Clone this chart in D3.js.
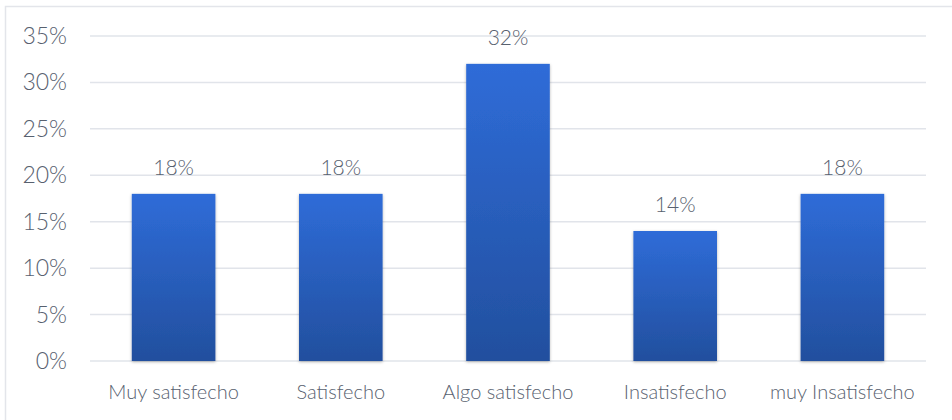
<!DOCTYPE html>
<html>
<head>
<meta charset="utf-8">
<script src="https://cdn.jsdelivr.net/npm/d3@7"></script>
<style>
  body { margin: 0; background: #fff; }
  svg text { font-family: "Lato", "Noto Sans", sans-serif; font-weight: 300; fill: #58616f; }
</style>
</head>
<body>
<div id="chart"></div>
<script>
var categories = ["Muy satisfecho", "Satisfecho", "Algo satisfecho", "Insatisfecho", "muy Insatisfecho"];
var values = [18, 18, 32, 14, 18];
var tickValues = [0, 5, 10, 15, 20, 25, 30, 35];

function init() {
    var w = 952;
    var h = 420;

    var svg = d3.select("#chart")
                .append("svg")
                .attr("width", w)
                .attr("height", h);

    // gradient + shadow for bars
    var defs = svg.append("defs");
    var grad = defs.append("linearGradient")
                .attr("id", "barGrad")
                .attr("x1", 0).attr("y1", 0)
                .attr("x2", 0).attr("y2", 1);
    grad.append("stop").attr("offset", "0%").attr("stop-color", "#2f6cd8");
    grad.append("stop").attr("offset", "100%").attr("stop-color", "#224f9e");

    var shadow = defs.append("filter")
                .attr("id", "shadow")
                .attr("x", "-20%").attr("y", "-10%")
                .attr("width", "140%").attr("height", "120%");
    shadow.append("feDropShadow")
        .attr("dx", 0).attr("dy", 1)
        .attr("stdDeviation", 1.5)
        .attr("flood-color", "#000")
        .attr("flood-opacity", 0.3);

    // outer frame
    svg.append("rect")
        .attr("x", 5.5).attr("y", 6.5)
        .attr("width", 960).attr("height", 430)
        .attr("fill", "none")
        .attr("stroke", "#e3e5ea")
        .attr("stroke-width", 1.5);

    var x = d3.scaleBand()
                .domain(categories)
                .range([90, 926])
                .paddingInner(0.5)
                .paddingOuter(0.25);

    var y = d3.scaleLinear()
                .domain([0, 35])
                .range([361, 36]);

    // gridlines
    svg.append("g")
        .selectAll("line")
        .data(tickValues)
        .enter()
        .append("line")
        .attr("x1", 90)
        .attr("x2", 926)
        .attr("y1", function(d) { return y(d); })
        .attr("y2", function(d) { return y(d); })
        .attr("stroke", "#e1e4ea")
        .attr("stroke-width", 1.5);

    // y tick labels
    svg.append("g")
        .selectAll("text")
        .data(tickValues)
        .enter()
        .append("text")
        .attr("x", 67)
        .attr("y", function(d) { return y(d); })
        .attr("dy", "0.35em")
        .attr("text-anchor", "end")
        .style("font-size", "23px")
        .text(function(d) { return d + "%"; });

    // bars
    svg.append("g")
        .selectAll("rect")
        .data(values)
        .enter()
        .append("rect")
        .attr("x", function(d, i) { return x(categories[i]); })
        .attr("y", function(d) { return y(d); })
        .attr("width", x.bandwidth())
        .attr("height", function(d) { return y(0) - y(d); })
        .attr("fill", "url(#barGrad)")
        .attr("filter", "url(#shadow)");

    // value labels
    svg.append("g")
        .selectAll("text")
        .data(values)
        .enter()
        .append("text")
        .attr("x", function(d, i) { return x(categories[i]) + x.bandwidth() / 2; })
        .attr("y", function(d) { return y(d) - 26; })
        .attr("dy", "0.35em")
        .attr("text-anchor", "middle")
        .style("font-size", "21px")
        .text(function(d) { return d + "%"; });

    // category labels
    svg.append("g")
        .selectAll("text")
        .data(categories)
        .enter()
        .append("text")
        .attr("x", function(d) { return x(d) + x.bandwidth() / 2; })
        .attr("y", 392)
        .attr("dy", "0.35em")
        .attr("text-anchor", "middle")
        .style("font-size", "20px")
        .text(function(d) { return d; });
}

window.onload = init;
</script>
</body>
</html>
